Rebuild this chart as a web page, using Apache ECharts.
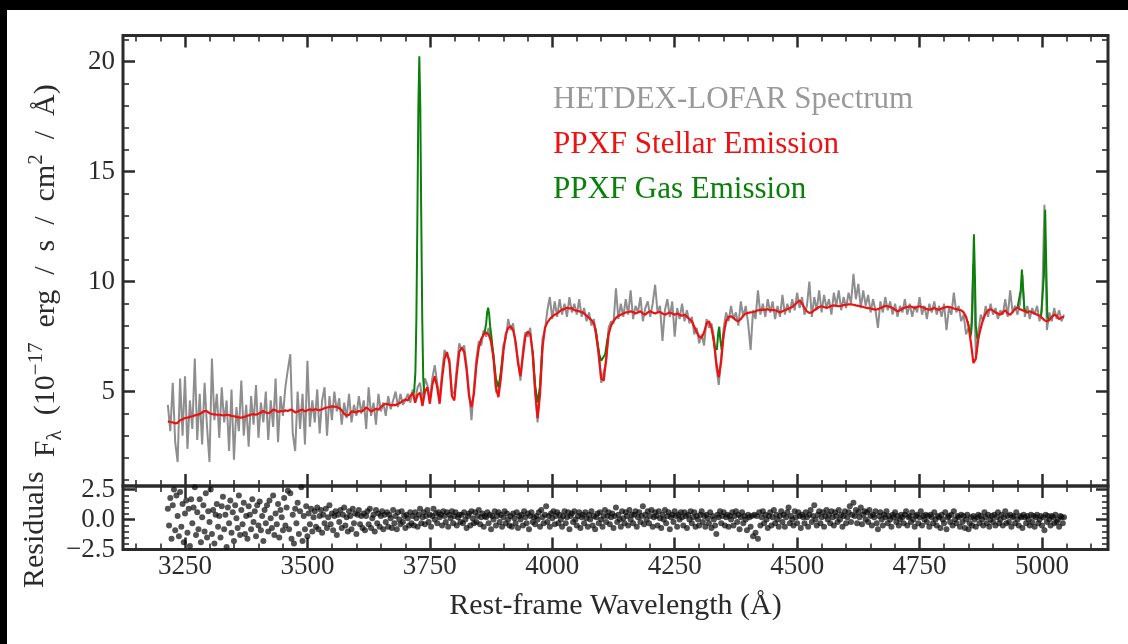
<!DOCTYPE html>
<html><head><meta charset="utf-8">
<script src="https://cdn.jsdelivr.net/npm/echarts@6.0.0/dist/echarts.min.js"></script>
<style>
html,body{margin:0;padding:0;background:#000;width:1128px;height:644px;overflow:hidden}
#chart{position:absolute;left:7px;top:10px;width:1121px;height:634px;background:#fff}
</style></head><body><div id="chart"></div>
<script>
// ---------- DATA ----------
const wavelengthStart = 3215, wavelengthStep = 5;   // spectrum sampling grid (Å)
const observedFlux = [
4.4,3.2,5.4,2.7,1.8,5.6,3.0,5.7,2.4,4.6,
3.3,6.5,2.8,4.9,2.6,5.4,3.4,1.8,6.5,3.7,
4.9,2.9,5.2,3.6,4.6,2.3,5.1,1.9,4.3,3.2,
5.5,3.0,4.4,2.5,4.8,3.5,5.3,2.9,4.5,3.6,
5.0,2.8,4.6,3.4,5.6,2.7,4.8,3.9,5.2,6.0,
6.7,3.1,2.3,5.0,3.3,4.9,2.6,6.4,3.4,4.6,
3.6,5.1,3.1,4.6,5.2,3.0,4.8,3.7,5.0,4.1,
4.7,3.5,4.5,3.8,4.9,3.6,4.4,3.9,4.8,4.0,
4.6,3.3,5.2,3.9,4.5,3.5,4.9,4.1,4.5,3.9,
4.8,4.2,4.6,5.0,4.3,4.9,4.4,4.6,4.9,4.5,
5.1,4.6,5.2,5.4,4.5,5.6,5.3,4.6,5.6,6.2,
5.4,4.7,5.9,6.9,6.6,6.5,5.0,4.9,6.1,7.2,
6.9,7.1,6.2,5.0,3.7,5.2,6.5,7.3,7.1,7.8,
7.5,7.9,7.2,6.7,5.0,4.9,5.9,7.1,7.4,8.3,
7.8,8.1,7.1,6.5,5.5,6.9,7.7,7.5,7.9,6.6,
5.1,3.6,5.2,7.4,7.8,8.7,9.3,8.3,9.1,8.4,
9.2,8.5,9.0,8.4,9.3,8.6,9.0,8.5,9.2,8.4,
8.8,8.2,8.6,8.0,8.3,7.4,6.8,5.4,5.9,6.3,
7.9,8.2,8.1,9.7,8.3,9.0,8.4,9.2,8.5,9.6,
8.3,8.9,8.6,9.3,8.2,8.8,9.1,8.4,9.0,9.86,
8.6,8.9,7.3,8.7,9.2,8.4,9.1,7.5,8.8,8.3,
9.0,8.2,8.7,8.1,8.4,7.6,7.9,7.2,7.6,7.1,
8.3,7.9,8.1,7.5,6.1,5.3,6.6,7.9,8.6,8.2,
8.9,8.3,8.6,8.0,9.1,8.4,8.9,8.1,6.9,8.7,
8.3,9.6,8.5,9.0,8.4,9.2,8.6,9.1,8.3,8.9,
8.4,9.4,8.5,9.0,8.6,9.2,8.7,9.5,8.8,9.3,
8.5,8.9,10.0,8.4,9.3,8.7,9.6,8.6,9.4,8.8,
9.2,8.5,9.5,8.9,9.6,8.7,9.3,8.8,9.5,9.0,
10.35,9.2,9.9,8.8,9.6,8.9,9.4,8.6,9.2,8.7,
7.9,9.1,8.6,9.3,8.7,9.1,8.5,9.0,8.4,8.9,
8.6,9.2,8.5,9.0,8.4,8.9,8.6,9.3,8.5,8.9,
8.3,9.0,8.6,9.1,8.5,8.9,8.4,9.0,7.8,8.8,
8.5,9.5,8.6,8.9,8.2,8.5,7.6,7.9,7.5,10.8,
6.6,7.7,8.5,8.2,8.9,8.4,9.0,8.5,8.8,8.3,
8.7,8.5,9.2,8.4,9.6,8.6,8.9,8.5,9.0,10.3,
8.4,8.9,8.3,8.8,8.5,8.9,8.2,8.7,13.5,7.8,
8.6,8.2,8.8,8.3,8.7,8.2,8.5
];
const stellarFlux = [
3.65,3.62,3.6,3.56,3.58,3.7,3.75,3.8,3.82,3.85,
3.88,3.92,3.95,3.98,4.05,4.12,4.1,4.02,3.98,3.97,
3.95,3.95,3.93,3.92,3.95,3.93,3.9,3.88,3.85,3.83,
3.82,3.84,3.88,3.92,3.96,3.98,3.95,4.0,4.05,4.12,
4.05,4.02,4.08,4.18,4.15,4.08,4.12,4.1,4.15,4.12,
4.18,4.15,4.05,4.1,4.15,4.18,4.1,4.15,4.2,4.15,
4.2,4.18,4.15,4.2,4.25,4.28,4.3,4.33,4.32,4.3,
4.25,4.15,4.0,3.9,3.95,4.1,4.08,4.05,4.12,4.1,
4.15,4.28,4.2,4.1,4.15,4.22,4.18,4.3,4.4,4.45,
4.42,4.38,4.4,4.38,4.45,4.5,4.58,4.65,4.6,4.8,
4.95,4.5,4.85,4.95,4.35,5.0,5.2,4.45,5.3,5.7,
5.2,4.45,5.6,6.5,6.8,6.3,4.8,4.6,5.8,6.8,
7.0,6.8,6.0,4.8,4.3,4.9,6.2,7.0,7.4,7.6,
7.68,7.6,7.3,6.5,5.2,4.75,5.6,6.8,7.6,7.9,
7.97,7.8,7.3,6.3,5.7,6.6,7.5,7.74,7.6,6.8,
5.0,3.8,4.9,7.0,7.9,8.15,8.3,8.42,8.5,8.55,
8.65,8.73,8.75,8.82,8.78,8.8,8.7,8.68,8.65,8.62,
8.55,8.45,8.35,8.25,8.1,7.6,6.6,5.6,5.5,6.5,
7.6,8.0,8.2,8.35,8.45,8.5,8.55,8.6,8.62,8.65,
8.62,8.55,8.6,8.65,8.55,8.5,8.6,8.65,8.6,8.55,
8.6,8.62,8.55,8.5,8.55,8.6,8.55,8.5,8.55,8.5,
8.45,8.5,8.4,8.3,8.2,7.95,7.7,7.5,7.45,7.7,
8.1,8.2,7.9,7.3,6.3,5.65,6.4,7.6,8.2,8.4,
8.42,8.35,8.25,8.2,8.3,8.45,8.55,8.58,8.6,8.62,
8.65,8.7,8.72,8.73,8.72,8.75,8.7,8.72,8.7,8.65,
8.6,8.65,8.7,8.75,8.8,8.85,8.95,9.05,9.15,9.0,
8.8,8.65,8.58,8.6,8.7,8.78,8.85,8.88,8.85,8.8,
8.85,8.9,8.92,8.9,8.88,8.9,8.93,8.95,8.97,8.97,
8.95,8.92,8.9,8.88,8.85,8.82,8.8,8.78,8.75,8.72,
8.75,8.8,8.85,8.9,8.88,8.85,8.8,8.72,8.65,8.7,
8.78,8.82,8.85,8.88,8.85,8.8,8.85,8.88,8.85,8.8,
8.75,8.72,8.75,8.8,8.75,8.72,8.78,8.82,8.85,8.85,
8.82,8.78,8.75,8.72,8.7,8.6,8.4,8.0,7.2,6.3,
6.5,7.4,7.9,8.3,8.55,8.7,8.75,8.68,8.6,8.55,
8.5,8.6,8.7,8.55,8.5,8.62,8.75,8.82,8.75,8.7,
8.65,8.6,8.65,8.6,8.55,8.5,8.45,8.35,8.25,8.2,
8.25,8.4,8.5,8.45,8.3,8.38,8.4
];
// stellar + gas model around the emission lines, [wavelength, flux]
const gasOII = [[3716,4.9],[3718,5.0],[3720.5,5.9],[3722.5,8.3],[3724.5,12.8],[3726.5,17.9],[3728.5,20.25],[3730.5,17.9],[3732.5,12.8],[3734.5,8.3],[3736.5,5.6],[3738.5,4.9],[3740,5.0]];
const gasNeIII = [[3858,7.55],[3862,7.7],[3865,8.1],[3867,8.6],[3869,8.82],[3871,8.55],[3873,8.0],[3876,7.45],[3880,6.6],[3885,5.6],[3890,5.2],[3895,5.85],[3900,6.8]];
const gasHeps = [[3960,6.85],[3965,5.3],[3970,4.5],[3975,5.25],[3980,7.05]];
const gasHdelta = [[4088,7.9],[4092,7.3],[4096,6.7],[4100,6.4],[4104,6.35],[4108,6.7],[4112,7.3],[4116,7.75]];
const gasHgamma = [[4328,7.55],[4332,7.0],[4336,6.9],[4339,7.7],[4341,7.95],[4343,7.4],[4346,6.9],[4350,7.6]];
const gasHbeta = [[4848,8.2],[4852,7.8],[4855,7.6],[4857,8.2],[4859,10.2],[4861,12.15],[4863,10.3],[4865,8.0],[4868,7.4],[4872,7.6]];
const gasOIII4959 = [[4950,8.82],[4954,8.85],[4956.5,9.6],[4959,10.55],[4961.5,9.6],[4964,8.75],[4968,8.62]];
const gasOIII5007 = [[4998,8.42],[5002,8.5],[5004,10.3],[5006.5,13.27],[5009,10.4],[5011,8.4],[5015,8.25]];
const gasLines = [gasOII, gasNeIII, gasHeps, gasHdelta, gasHgamma, gasHbeta, gasOIII4959, gasOIII5007];

const residualStart = 3215, residualStep = 2.5;
const residuals = [
0.9,-0.5,1.8,-1.6,1.2,2.5,-0.9,2.0,0.3,-1.4,2.3,-0.6,1.3,-1.9,0.5,1.6,-1.1,0.9,-2.2,1.7,
-0.3,1.0,2.7,-1.3,0.6,-0.8,1.7,-1.9,0.2,1.2,-1.0,2.2,-1.5,0.7,-0.2,2.5,-1.2,0.8,-2.0,0.4,
1.3,-0.6,0.3,-1.5,1.1,1.9,-0.8,0.4,-2.3,1.0,-0.3,1.6,-1.1,0.6,-1.8,1.2,0.1,-0.7,2.0,-1.3,
0.8,-0.4,1.4,-1.2,0.3,-1.6,1.1,0.4,-0.8,1.7,-0.2,0.7,-1.4,1.2,-0.5,1.5,-0.9,0.3,-1.8,0.8,
-0.3,1.2,-1.0,1.6,0.1,-0.7,2.0,-1.3,0.5,-0.4,1.3,-1.5,0.8,0.2,-0.9,1.8,-0.5,1.0,2.4,-0.8,
2.2,-1.6,0.4,-2.0,0.9,-0.3,1.4,-1.2,0.7,2.7,-1.8,0.3,-0.8,1.1,-1.4,0.5,-0.4,0.9,-1.0,0.2,
0.7,-0.6,1.0,-0.8,0.3,0.8,-1.1,0.4,-0.3,0.9,-0.7,0.2,1.2,-0.4,0.5,-0.9,0.3,0.7,-1.3,0.4,
-0.2,0.8,-0.7,0.4,1.0,-0.5,0.2,-1.0,0.7,0.3,-0.8,0.9,-0.3,0.5,-1.2,0.4,0.8,-0.4,0.3,-0.7,
0.5,-0.9,0.3,0.7,-0.4,0.9,-0.7,0.1,0.4,-1.0,0.8,-0.3,0.5,-0.6,0.3,0.7,-0.8,0.4,-0.2,0.6,
-0.6,0.4,0.1,-0.7,0.8,-0.3,0.3,-0.8,0.6,0.0,-0.4,0.7,-0.2,0.3,-0.7,0.4,0.1,-0.5,0.6,-0.3,
0.3,-0.5,0.6,0.1,-0.6,0.4,0.9,-0.3,0.2,0.6,-0.4,0.3,0.8,-0.2,0.4,-0.6,0.3,0.9,0.0,0.5,
-0.3,0.6,0.2,0.4,-0.5,0.7,0.3,-0.2,0.6,-0.6,0.4,0.1,0.7,-0.3,0.3,0.6,-0.5,0.2,0.4,-0.2,
0.4,-0.3,0.6,0.0,-0.7,0.3,0.5,-0.5,0.7,0.1,-0.3,0.6,-0.2,0.3,0.8,-0.4,0.2,0.5,-0.6,0.3,
0.2,0.6,-0.3,0.4,-0.8,0.3,0.0,0.7,-0.5,0.3,0.6,-0.2,0.4,-0.6,0.2,0.7,-0.3,0.5,0.0,-0.5,
0.3,-0.6,0.5,0.1,-0.3,0.6,-0.7,0.3,0.0,0.4,-0.5,0.7,0.2,-0.3,0.5,-0.8,0.3,0.6,-0.2,0.2,
-0.4,0.3,0.0,0.6,-0.6,0.8,0.2,-0.3,0.4,1.1,-0.2,0.3,-0.6,0.5,0.1,0.7,-0.4,0.3,0.6,-0.3,
0.4,0.0,-0.6,0.3,0.7,-0.3,0.2,0.6,-0.8,0.3,0.5,-0.2,0.7,0.0,-0.5,0.3,0.6,-0.7,0.2,0.4,
-0.3,0.6,0.1,-0.6,0.4,0.0,0.7,-0.5,0.3,-0.8,0.2,0.5,-0.3,0.6,0.0,-0.6,0.3,0.8,-0.2,0.3,
0.6,-0.4,0.2,0.5,-0.7,0.3,1.0,-0.2,0.4,0.0,-0.6,0.7,0.1,-0.3,0.6,0.3,-0.5,0.8,0.0,0.4,
-0.3,0.4,0.7,-0.6,0.2,0.6,-0.2,0.3,1.1,-0.4,0.4,0.0,0.7,-0.3,0.3,0.8,-0.6,0.2,0.6,0.3,
-0.5,0.7,0.1,-0.7,0.4,0.0,0.8,-0.3,0.3,0.6,-0.8,0.2,0.4,-0.2,0.7,0.3,-0.6,0.4,0.0,0.6,
0.2,-0.5,0.6,0.3,-0.7,0.4,0.0,0.7,-0.3,0.2,0.6,-0.6,0.3,0.0,-0.5,0.4,0.7,-0.2,0.3,-0.6,
0.4,0.1,-0.3,0.6,-0.7,0.3,0.0,-0.5,-1.2,0.4,0.2,0.7,-0.3,0.3,0.6,-0.5,0.2,0.4,-0.6,0.3,
0.0,0.6,-0.5,0.3,0.7,-0.2,0.4,-0.8,0.2,0.6,-0.3,0.3,0.0,-0.9,0.4,0.2,-0.6,0.3,-1.4,0.4,
-1.1,0.3,-1.6,0.6,-0.5,0.2,0.7,-0.3,0.4,0.0,-0.7,0.3,0.6,-0.5,0.2,0.8,-0.3,0.4,0.0,-0.6,
0.3,0.7,-0.2,0.4,-0.6,0.2,0.6,1.0,-0.3,0.3,0.0,-0.5,0.7,0.2,-0.3,0.6,0.3,-0.7,0.4,0.2,
-0.3,0.6,0.2,-0.6,0.4,0.8,-0.2,0.3,1.2,0.0,-0.5,0.4,0.7,-0.3,0.2,0.6,-0.6,0.3,0.8,0.0,
0.4,-0.3,0.7,0.2,-0.5,0.6,0.3,-0.2,0.8,0.0,0.4,-0.6,0.3,0.7,-0.3,0.2,0.6,1.1,-0.2,0.4,
1.4,0.3,0.8,-0.3,0.6,0.2,1.0,-0.4,0.4,0.7,0.0,0.6,-0.2,0.8,0.3,-0.5,0.4,0.2,0.7,-0.3,
-0.8,0.3,0.6,0.0,-0.5,0.4,0.2,0.7,-0.3,0.3,0.0,-0.6,0.4,0.2,0.6,-0.2,0.3,-0.5,0.0,0.4,
0.2,-0.3,0.4,0.7,-0.5,0.2,0.3,-0.2,0.6,0.0,-0.6,0.3,0.4,-0.3,0.2,0.7,-0.5,0.3,0.0,0.4,
-0.2,0.3,-0.6,0.4,0.2,-0.3,0.6,0.0,-0.5,0.3,0.2,-0.7,0.4,0.0,-0.3,0.6,-0.8,0.2,0.3,-0.2,
0.4,-0.5,0.7,0.0,-0.3,0.3,0.2,-0.6,0.4,-0.2,0.3,-0.7,0.0,0.4,-0.8,-0.3,0.2,-0.5,0.3,0.0,
-0.6,0.2,0.4,-0.3,0.3,0.0,-0.5,0.6,0.2,-0.3,0.4,-0.6,0.0,0.3,-0.2,0.4,-0.5,0.2,0.6,-0.3,
0.0,0.4,-0.5,0.2,0.7,-0.3,0.3,-0.2,0.4,-0.6,0.2,0.3,-0.3,0.6,0.0,-0.5,0.3,0.2,-0.7,0.4,
0.2,-0.3,0.3,0.0,-0.5,0.4,-0.2,0.3,-0.6,0.2,0.4,-0.3,0.0,0.3,-0.5,0.2,-0.9,0.4,-0.2,0.3,
0.0,-0.5,0.3,0.2,-0.3,0.4,-0.2,0.0,-0.6,0.3,0.2,-0.3,0.2
];

const xMajorTicks = [3250,3500,3750,4000,4250,4500,4750,5000];
const xMinorTicks = [3150,3200,3300,3350,3400,3450,3550,3600,3650,3700,3800,3850,3900,3950,4050,4100,4150,4200,4300,4350,4400,4450,4550,4600,4650,4700,4800,4850,4900,4950,5050,5100];
const fluxMajorTicks = [5,10,15,20];
const fluxMinorTicks = [1,2,3,4,6,7,8,9,11,12,13,14,16,17,18,19,21];
const residMajorTicks = [-2.5,0,2.5];
const residMinorTicks = [-2,-1.5,-1,-0.5,0.5,1,1.5,2];

const seriesNames = ['HETDEX-LOFAR Spectrum','PPXF Stellar Emission','PPXF Gas Emission'];

// ---------- CHART ----------
const SERIF = '"Liberation Serif","Times New Roman",serif';
const INK = '#2b2b2b';
const GRAY = '#8e8e8e', RED = '#ee1111', GREEN = '#0a800a';
const X_RANGE = [3123.4, 5134.8], FLUX_RANGE = [0.71, 21.19], RESID_RANGE = [-2.5, 2.8];
const SP = '\u2002';

function tickAxis(grid, pos, range, ticks, major, extra) {
  return Object.assign({
    type: 'value', gridIndex: grid, position: pos, min: range[0], max: range[1],
    axisLine: {show: false, onZero: false},
    splitLine: {show: false},
    axisTick: {show: true, inside: true, length: major ? 12 : 6,
      lineStyle: {color: INK, width: major ? 2.5 : 1.6}, customValues: ticks},
    axisLabel: {show: false},
    axisPointer: {show: false}, silent: true
  }, extra || {});
}
const tickLabel = (ticks, fmt, margin) => ({show: true, customValues: ticks, fontFamily: SERIF,
  fontSize: 27, color: INK, margin: margin, formatter: fmt});
const nameStyle = {fontFamily: SERIF, fontSize: 30, color: INK, lineHeight: 40,
  rich: {
    t: {fontFamily: SERIF, fontSize: 30, color: INK, lineHeight: 40},
    sub: {fontFamily: SERIF, fontSize: 21, color: INK, lineHeight: 22, verticalAlign: 'bottom'},
    sup: {fontFamily: SERIF, fontSize: 21, color: INK, lineHeight: 22, verticalAlign: 'top'}
  }};

const observedData = observedFlux.map((f, i) => [wavelengthStart + i * wavelengthStep, f]);
const stellarData = stellarFlux.map((f, i) => [wavelengthStart + i * wavelengthStep, f]);
const residualData = residuals.map((r, i) => [residualStart + i * residualStep, r]);

const series = [{
  name: seriesNames[0], type: 'line', xAxisIndex: 0, yAxisIndex: 0, data: observedData,
  showSymbol: false, symbol: 'none', lineStyle: {color: GRAY, width: 2}, itemStyle: {color: GRAY}
}];
gasLines.forEach(seg => series.push({
  name: seriesNames[2], type: 'line', xAxisIndex: 0, yAxisIndex: 0, data: seg,
  showSymbol: false, symbol: 'none', lineStyle: {color: GREEN, width: 2}, itemStyle: {color: GREEN}
}));
series.push({
  name: seriesNames[1], type: 'line', xAxisIndex: 0, yAxisIndex: 0, data: stellarData,
  showSymbol: false, symbol: 'none', lineStyle: {color: RED, width: 2.2}, itemStyle: {color: RED}
});
series.push({
  name: 'Residuals', type: 'scatter', xAxisIndex: 4, yAxisIndex: 4, data: residualData,
  symbolSize: 6, itemStyle: {color: 'rgba(8,8,8,0.88)'}
});

const chart = echarts.init(document.getElementById('chart'), null, {renderer: 'canvas'});
chart.setOption({
  animation: false,
  backgroundColor: '#fff',
  grid: [
    {left: 116, top: 25.5, width: 985, height: 450.5, show: true, borderColor: INK, borderWidth: 3, outerBoundsMode: 'none', containLabel: false},
    {left: 116, top: 476, width: 985, height: 63.5, show: true, borderColor: INK, borderWidth: 3, outerBoundsMode: 'none', containLabel: false}
  ],
  legend: {
    orient: 'vertical', left: 536, top: 69, icon: 'none', itemWidth: 0, itemHeight: 30, itemGap: 14,
    selectedMode: false,
    textStyle: {fontFamily: SERIF, fontSize: 31},
    data: [
      {name: seriesNames[0], textStyle: {color: '#999999'}},
      {name: seriesNames[1], textStyle: {color: RED}},
      {name: seriesNames[2], textStyle: {color: GREEN}}
    ]
  },
  xAxis: [
    tickAxis(0, 'bottom', X_RANGE, xMajorTicks, true),
    tickAxis(0, 'bottom', X_RANGE, xMinorTicks, false),
    tickAxis(0, 'top', X_RANGE, xMajorTicks, true),
    tickAxis(0, 'top', X_RANGE, xMinorTicks, false),
    tickAxis(1, 'bottom', X_RANGE, xMajorTicks, true, {
      axisLabel: tickLabel(xMajorTicks, v => String(v), 4),
      name: 'Rest-frame Wavelength (Å)', nameLocation: 'middle', nameGap: 42,
      nameTextStyle: {fontFamily: SERIF, fontSize: 30, color: INK}
    }),
    tickAxis(1, 'bottom', X_RANGE, xMinorTicks, false),
    tickAxis(1, 'top', X_RANGE, xMajorTicks, true),
    tickAxis(1, 'top', X_RANGE, xMinorTicks, false)
  ],
  yAxis: [
    tickAxis(0, 'left', FLUX_RANGE, fluxMajorTicks, true, {
      axisLabel: tickLabel(fluxMajorTicks, v => String(v), 8),
      name: '{t|F}{sub|λ}{t|' + SP + '(10}{sup|−17}{t|' + SP + 'erg' + SP + '/' + SP + 's' + SP + '/' + SP + 'cm}{sup|2}{t|' + SP + '/' + SP + 'Å)}',
      nameLocation: 'middle', nameRotate: 90, nameGap: 57,
      nameTextStyle: Object.assign({padding: [0, 20, 0, 0]}, nameStyle)
    }),
    tickAxis(0, 'left', FLUX_RANGE, fluxMinorTicks, false),
    tickAxis(0, 'right', FLUX_RANGE, fluxMajorTicks, true),
    tickAxis(0, 'right', FLUX_RANGE, fluxMinorTicks, false),
    tickAxis(1, 'left', RESID_RANGE, residMajorTicks, true, {
      axisLabel: tickLabel(residMajorTicks, v => (v < 0 ? '−' : '') + Math.abs(v).toFixed(1), 8),
      name: '{t|Residuals}', nameLocation: 'middle', nameRotate: 90, nameGap: 57,
      nameTextStyle: Object.assign({padding: [0, 24, 0, 0]}, nameStyle)
    }),
    tickAxis(1, 'left', RESID_RANGE, residMinorTicks, false),
    tickAxis(1, 'right', RESID_RANGE, residMajorTicks, true),
    tickAxis(1, 'right', RESID_RANGE, residMinorTicks, false)
  ],
  series: series
});
</script></body></html>
